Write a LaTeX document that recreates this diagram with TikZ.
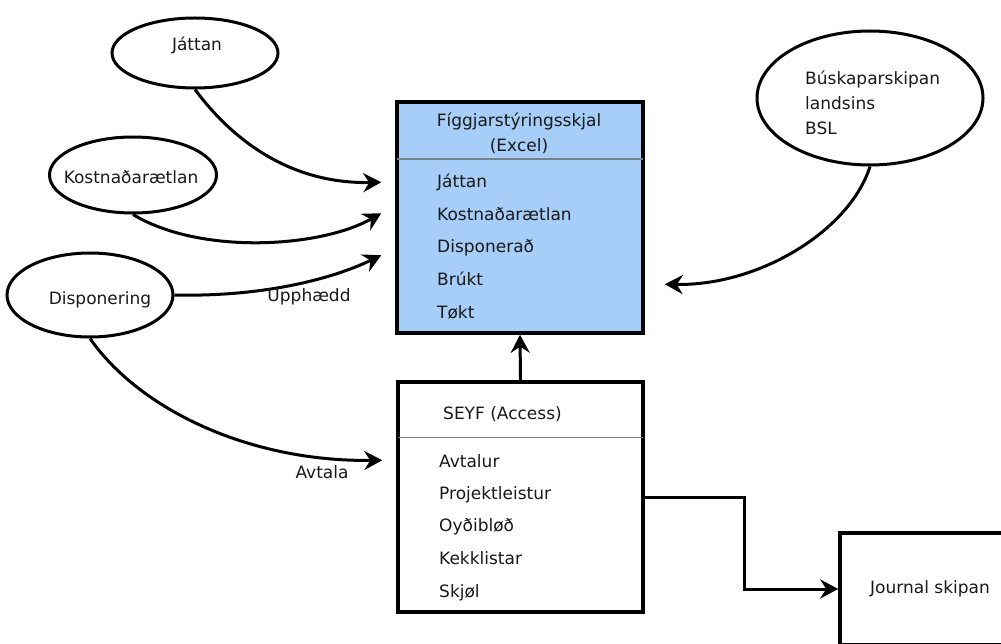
\documentclass[tikz,border=0pt]{standalone}
\usepackage{fontspec}
\setmainfont{DejaVu Sans}
\usetikzlibrary{arrows.meta,calc,shapes.geometric}
\definecolor{figblue}{RGB}{166,206,248}
\definecolor{divgray}{RGB}{120,130,140}
\begin{document}
\begin{tikzpicture}[x=1pt,y=-1pt,
  every node/.style={font=\fontsize{17}{25}\selectfont, text=black!90},
  ell/.style={ellipse, draw, line width=3pt, inner sep=0pt},
  boxst/.style={rectangle, draw, line width=3.5pt, inner sep=0pt},
  arr/.style={line width=3pt, -{Stealth[length=18pt,width=19pt,inset=6pt]}},
  divider/.style={line width=1.5pt, draw=divgray},
  txt/.style={inner sep=0pt, anchor=west, text height=13pt, text depth=3pt},
  lbl/.style={inner sep=0pt},
]
\useasboundingbox (0,0) rectangle (1001,644);
\clip (0,0) rectangle (1001,644);

% ellipses
\node[ell, minimum width=166, minimum height=70] (jat) at (195,53) {};
\node[lbl] (jatT) at (197,45) {Játtan};
\node[ell, minimum width=167, minimum height=76] (kost) at (133,175) {};
\node[lbl] (kostT) at (131,177) {Kostnaðarætlan};
\node[ell, minimum width=166, minimum height=84] (disp) at (90,295) {};
\node[lbl] (dispT) at (100,300) {Disponering};
\node[ell, minimum width=226, minimum height=134] (bsl) at (870,98) {};
\node[lbl, anchor=west, align=left] (bslT) at (805,103) {Búskaparskipan\\landsins\\BSL};

% Figgjarstyringsskjal box
\node[boxst, fill=figblue, minimum width=246, minimum height=231] (fig) at (520,217.5) {};
\draw[divider] ($(fig.north west)+(2,59)$) -- ($(fig.north east)+(-2,59)$);
\node[lbl, align=center] (figT) at (519,133) {Fíggjarstýringsskjal\\(Excel)};
\node[txt] (f1) at (437,183) {Játtan};
\node[txt] (f2) at (437,215.5) {Kostnaðarætlan};
\node[txt] (f3) at (437,248) {Disponerað};
\node[txt] (f4) at (437,280.5) {Brúkt};
\node[txt] (f5) at (437,313) {Tøkt};

% SEYF box
\node[boxst, fill=white, minimum width=245, minimum height=230] (seyf) at (520.5,497) {};
\draw[divider] ($(seyf.north west)+(2,57)$) -- ($(seyf.north east)+(-2,57)$);
\node[txt] (sT) at (443,414) {SEYF (Access)};
\node[txt] (s1) at (439,462) {Avtalur};
\node[txt] (s2) at (439,494) {Projektleistur};
\node[txt] (s3) at (439,526) {Oyðibløð};
\node[txt] (s4) at (439,559) {Kekklistar};
\node[txt] (s5) at (439,592) {Skjøl};

% Journal box
\node[boxst, minimum width=180, minimum height=112] (jour) at (930,589) {Journal skipan};

% arrow end points
\coordinate (a1) at ($(fig.north west)+(-14,82)$);
\coordinate (a2) at ($(fig.north west)+(-14,113)$);
\coordinate (a3) at ($(fig.north west)+(-14,155)$);
\coordinate (a4) at ($(seyf.north west)+(-14,80)$);
\coordinate (a5) at ($(fig.north east)+(20,184)$);

\draw[arr] (jat.south) .. controls (240,150) and (300,184) .. (a1);
\draw[arr] (kost.south) .. controls (200,255) and (320,248) .. (a2);
\draw[arr] (disp.east) .. controls (260,297) and (330,280) .. (a3);
\node[lbl] (up) at (309,297) {Upphædd};
\draw[arr] (disp.south) .. controls (140,410) and (250,462) .. (a4);
\node[lbl] (av) at (322,472) {Avtala};
\draw[arr] (bsl.south) .. controls (850,230) and (760,286) .. (a5);
\draw[arr] (seyf.north) -- (fig.south);
\draw[arr] (seyf.east) -- ++(100,0) |- (jour.west);
\end{tikzpicture}
\end{document}
